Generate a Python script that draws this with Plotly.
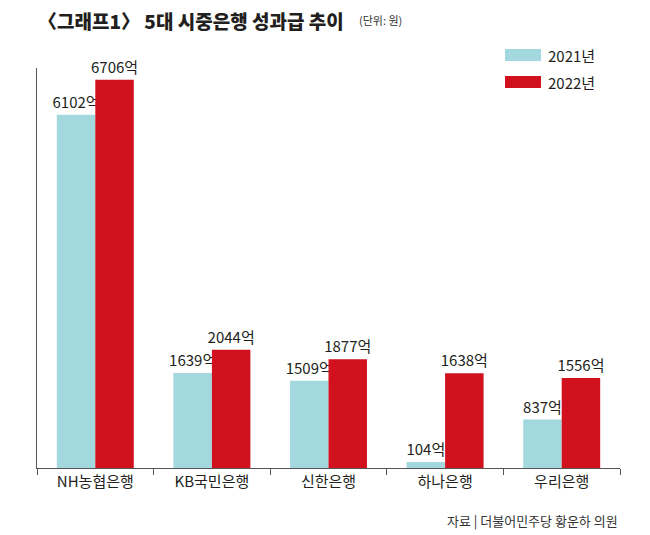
import plotly.graph_objects as go

# 5대 시중은행 성과급 (단위: 억원)
banks = ['NH농협은행', 'KB국민은행', '신한은행', '하나은행', '우리은행']
bonus_2021 = [6102, 1639, 1509, 104, 837]
bonus_2022 = [6706, 2044, 1877, 1638, 1556]
series_names = ['2021년', '2022년']

c21 = '#a2d8de'
c22 = '#d1111e'
font_kr = 'Noto Sans CJK KR'
font_narrow = 'Liberation Sans Narrow, Noto Sans CJK KR'

fig = go.Figure()

fig.add_trace(go.Bar(x=banks, y=bonus_2021, name=series_names[0],
                     marker=dict(color=c21, line=dict(width=0)),
                     text=[str(v) + '억' for v in bonus_2021],
                     textposition='outside', constraintext='none',
                     textfont=dict(family=font_narrow, size=15, color='#231f20'),
                     cliponaxis=False))
fig.add_trace(go.Bar(x=banks, y=bonus_2022, name=series_names[1],
                     marker=dict(color=c22, line=dict(width=0)),
                     text=[str(v) + '억' for v in bonus_2022],
                     textposition='outside', constraintext='none',
                     textfont=dict(family=font_narrow, size=15, color='#231f20'),
                     cliponaxis=False))

fig.update_layout(
    width=650, height=535,
    margin=dict(l=37, r=30, t=68, b=67),
    paper_bgcolor='white', plot_bgcolor='white',
    font=dict(family=font_kr, size=14, color='#231f20'),
    barmode='group', bargap=0.34, bargroupgap=0,
    showlegend=False,
)

fig.update_xaxes(showline=True, linecolor='#555555', linewidth=1,
                 ticks='outside', tickson='boundaries', ticklen=6,
                 tickcolor='#555555', range=[-0.5, 4.5],
                 tickfont=dict(family=font_narrow, size=15, color='#231f20'),
                 showgrid=False)
fig.update_yaxes(showline=True, linecolor='#555555', linewidth=1,
                 range=[0, 6910], showticklabels=False, showgrid=False,
                 zeroline=False, ticks='')

# title
fig.add_annotation(text='〈그래프1〉 5대 시중은행 성과급 추이',
                   xref='paper', yref='paper', x=-0.002, y=1.0,
                   yshift=48, xanchor='left', yanchor='middle',
                   showarrow=False,
                   font=dict(size=19, color='#231f20', weight=900))
fig.add_annotation(text='(단위: 원)',
                   xref='paper', yref='paper', x=(357 - 37) / 583, y=1.0,
                   yshift=48, xanchor='left', yanchor='middle',
                   showarrow=False, font=dict(size=11, color='#333333'))

# legend
for i, (nm, col) in enumerate(zip(series_names, [c21, c22])):
    yc = 1 - (55 + 27 * i - 68) / 400
    fig.add_shape(type='rect', xref='paper', yref='paper',
                  x0=(505 - 37) / 583, x1=(541 - 37) / 583,
                  y0=yc - 6 / 400, y1=yc + 6 / 400,
                  fillcolor=col, line=dict(width=0))
    fig.add_annotation(text=nm, xref='paper', yref='paper',
                       x=(546 - 37) / 583, y=yc, xanchor='left',
                       yanchor='middle', showarrow=False,
                       font=dict(family=font_narrow, size=15, color='#231f20'))

# source
fig.add_annotation(text='자료 | 더불어민주당 황운하 의원',
                   xref='paper', yref='paper', x=1.0, y=0,
                   yshift=-52, xanchor='right', yanchor='middle',
                   showarrow=False, font=dict(size=13, color='#333333'))

fig.write_html('out.html', config={'displayModeBar': False},
               post_script="document.body.style.margin='0px';")
